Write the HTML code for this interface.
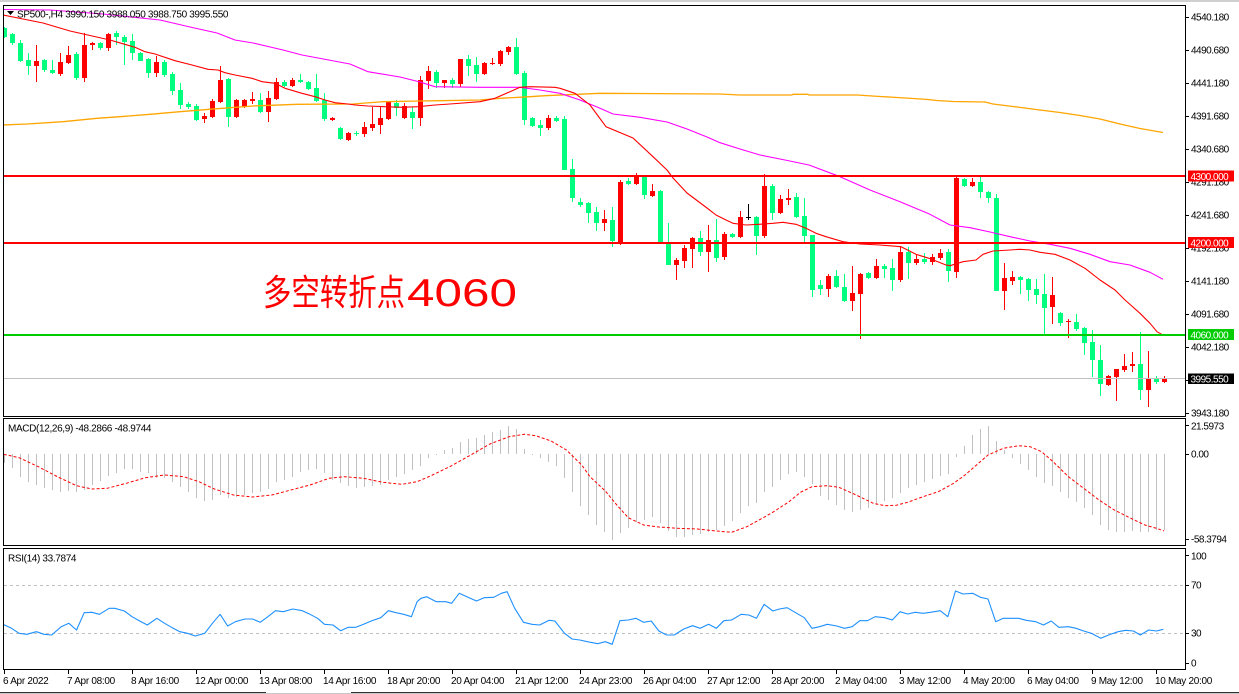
<!DOCTYPE html>
<html><head><meta charset="utf-8"><style>
html,body{margin:0;padding:0;background:#fff;}
svg{display:block;}
text{font-family:"Liberation Sans",Arial,sans-serif;font-size:10px;fill:#000;}
.ax text{letter-spacing:-0.5px;}
.xl text{letter-spacing:-0.3px;}
.wt text{fill:#fff;letter-spacing:-0.5px;}
</style></head><body>
<svg width="1239" height="694" viewBox="0 0 1239 694" xmlns="http://www.w3.org/2000/svg">
<defs>
<clipPath id="cm"><rect x="4" y="6" width="1181" height="410"/></clipPath>
<clipPath id="cd"><rect x="4" y="419" width="1181" height="126"/></clipPath>
<clipPath id="cr"><rect x="4" y="549" width="1181" height="120"/></clipPath>
</defs>
<rect width="1239" height="694" fill="#fff"/>
<rect x="0" y="0" width="1239" height="2" fill="#d0d0d0"/>

<!-- ========== MAIN PANEL ========== -->
<g clip-path="url(#cm)" shape-rendering="crispEdges">
<path stroke="#00ff7f" stroke-width="1" fill="none" d="M4.5 27V38M12.5 33V45M20.5 40V62M28.5 53V75M44.5 59V72M52.5 60V74M76.5 52V80M100.5 42V50M116.5 31V45M124.5 35V65M132.5 34V60M140.5 52V61M148.5 58V78M164.5 60V77M172.5 72V95M180.5 83V109M188.5 102V109M196.5 104V121M228.5 78V127M260.5 93V113M284.5 80V87M300.5 74V83M308.5 81V90M316.5 74V102M324.5 93V121M340.5 127V140M356.5 131V136M396.5 100V116M412.5 107V129M436.5 70V88M452.5 78V88M468.5 55V76M476.5 57V82M516.5 38V75M524.5 71V125M532.5 117V127M540.5 120V136M556.5 116V122M564.5 116V170M572.5 159V202M580.5 198V207M588.5 202V223M596.5 207V231M612.5 207V247M628.5 178V185M644.5 177V199M660.5 190V242M668.5 223V265M700.5 231V256M716.5 219V262M732.5 233V238M756.5 216V255M772.5 184V220M796.5 193V218M804.5 198V242M812.5 235V297M820.5 280V295M836.5 270V288M844.5 274V302M868.5 272V279M884.5 264V278M892.5 259V291M908.5 247V279M924.5 253V264M948.5 249V282M964.5 178V187M980.5 177V198M988.5 191V203M996.5 194V291M1020.5 276V294M1028.5 278V301M1036.5 279V304M1044.5 274V335M1060.5 312V326M1076.5 314V331M1084.5 327V355M1092.5 330V377M1100.5 345V396M1140.5 332V400M1156.5 376V384"/>
<path fill="#00ff7f" d="M2 28h5V37h-5zM10 34h5V43h-5zM18 43h5V61h-5zM26 60h5V66h-5zM42 60h5V70h-5zM50 70h5V73h-5zM74 54h5V78h-5zM98 43h5V48h-5zM114 33h5V37h-5zM122 37h5V42h-5zM130 41h5V53h-5zM138 53h5V61h-5zM146 59h5V73h-5zM162 62h5V75h-5zM170 74h5V91h-5zM178 90h5V105h-5zM186 104h5V107h-5zM194 106h5V120h-5zM226 79h5V117h-5zM258 100h5V112h-5zM282 82h5V86h-5zM298 80h5V82h-5zM306 82h5V89h-5zM314 88h5V101h-5zM322 100h5V119h-5zM338 128h5V139h-5zM354 133h5V134h-5zM394 103h5V108h-5zM410 112h5V118h-5zM434 72h5V83h-5zM450 80h5V84h-5zM466 59h5V66h-5zM474 65h5V74h-5zM514 47h5V74h-5zM522 73h5V120h-5zM530 118h5V126h-5zM538 125h5V128h-5zM554 118h5V121h-5zM562 119h5V170h-5zM570 169h5V198h-5zM578 202h5V205h-5zM586 203h5V213h-5zM594 212h5V223h-5zM610 220h5V241h-5zM626 181h5V184h-5zM642 177h5V195h-5zM658 191h5V242h-5zM666 243h5V265h-5zM698 238h5V252h-5zM714 240h5V258h-5zM730 234h5V237h-5zM754 217h5V236h-5zM770 186h5V213h-5zM794 197h5V217h-5zM802 216h5V236h-5zM810 235h5V290h-5zM818 285h5V289h-5zM834 276h5V287h-5zM842 287h5V301h-5zM866 273h5V278h-5zM882 266h5V269h-5zM890 268h5V280h-5zM906 252h5V263h-5zM922 259h5V262h-5zM946 252h5V271h-5zM962 179h5V186h-5zM978 182h5V192h-5zM986 192h5V198h-5zM994 198h5V291h-5zM1018 277h5V280h-5zM1026 279h5V290h-5zM1034 289h5V295h-5zM1042 294h5V308h-5zM1058 313h5V323h-5zM1074 322h5V329h-5zM1082 328h5V343h-5zM1090 342h5V360h-5zM1098 360h5V384h-5zM1138 364h5V390h-5zM1154 378h5V382h-5z"/>
<path stroke="#ff0000" stroke-width="1" fill="none" d="M36.5 45V82M60.5 53V76M68.5 46V64M84.5 33V82M92.5 42V50M108.5 33V51M156.5 56V77M204.5 113V123M212.5 99V118M220.5 66V103M236.5 99V118M244.5 99V108M252.5 92V104M268.5 91V122M276.5 78V100M292.5 78V87M332.5 117V121M348.5 132V141M364.5 122V137M372.5 107V131M380.5 107V134M388.5 101V120M404.5 103V119M420.5 76V126M428.5 66V89M444.5 80V88M460.5 59V87M484.5 62V75M492.5 58V65M500.5 50V66M508.5 46V55M548.5 115V130M604.5 210V231M620.5 180V245M636.5 173V185M652.5 184V197M676.5 258V280M684.5 245V268M692.5 237V268M708.5 225V272M724.5 232V260M740.5 211V238M764.5 174V238M780.5 195V214M788.5 189V205M828.5 274V297M852.5 266V311M860.5 273V339M876.5 259V279M900.5 246V282M916.5 254V265M932.5 254V265M940.5 249V260M956.5 177V278M972.5 178V187M1004.5 263V310M1012.5 271V285M1052.5 277V324M1068.5 319V338M1108.5 375V386M1116.5 369V401M1124.5 354V372M1132.5 352V372M1148.5 351V407M1164.5 376V383"/>
<path fill="#ff0000" d="M34 61h5V66h-5zM58 62h5V74h-5zM66 55h5V63h-5zM82 45h5V78h-5zM90 43h5V45h-5zM106 34h5V48h-5zM154 62h5V73h-5zM202 116h5V119h-5zM210 101h5V117h-5zM218 80h5V102h-5zM234 100h5V117h-5zM242 100h5V107h-5zM250 99h5V101h-5zM266 98h5V112h-5zM274 82h5V99h-5zM290 80h5V86h-5zM330 118h5V120h-5zM346 133h5V140h-5zM362 127h5V134h-5zM370 124h5V128h-5zM378 118h5V125h-5zM386 102h5V119h-5zM402 106h5V118h-5zM418 80h5V118h-5zM426 71h5V81h-5zM442 80h5V83h-5zM458 59h5V84h-5zM482 63h5V74h-5zM490 63h5V64h-5zM498 51h5V64h-5zM506 47h5V52h-5zM546 118h5V128h-5zM602 219h5V223h-5zM618 182h5V242h-5zM634 177h5V184h-5zM650 191h5V196h-5zM674 260h5V265h-5zM682 248h5V261h-5zM690 238h5V249h-5zM706 240h5V252h-5zM722 234h5V257h-5zM738 217h5V237h-5zM762 186h5V236h-5zM778 199h5V213h-5zM786 198h5V200h-5zM826 276h5V289h-5zM850 293h5V301h-5zM858 274h5V294h-5zM874 266h5V278h-5zM898 252h5V280h-5zM914 259h5V263h-5zM930 257h5V262h-5zM938 253h5V258h-5zM954 178h5V272h-5zM970 182h5V186h-5zM1002 278h5V291h-5zM1010 277h5V281h-5zM1050 295h5V307h-5zM1066 321h5V322h-5zM1106 376h5V385h-5zM1114 369h5V377h-5zM1122 366h5V370h-5zM1130 364h5V366h-5zM1146 378h5V390h-5zM1162 378h5V382h-5z"/>
<path stroke="#000" stroke-width="1" fill="none" d="M748.5 204V220"/>
<rect x="746" y="217" width="5" height="1" fill="#000"/>
</g>

<g clip-path="url(#cm)" fill="none" stroke-linejoin="round">
<polyline stroke="#ffa500" stroke-width="1.3" points="3,125 27,124 63,121.7 97,118.3 120,116.7 150,114.3 180,111.7 217,108.7 253,106 297,104.3 353,104 383,101.7 420,101 440,100.7 480,100 500,98.3 530,96.7 545,95.7 600,93.3 720,94 740,95 792,95 793,94.3 808,94.3 809,95 857,95 880,96.5 897,97.5 913,98.5 928,99.5 937,100.5 953,101.5 985,102 993,104 1017,107 1040,110 1060,112.5 1080,115.5 1100,119 1120,124 1140,128.5 1163,132.5"/>
<polyline stroke="#ff00ff" stroke-width="1.1" points="3,9.5 50,10 103,14 160,20 190,27 217,33 235,40 253,43 283,50 302,55 350,64 368,71.7 400,77 420,82 435,86.7 480,87.3 520,87.3 540,90 560,93.3 580,100 600,108.3 613,114 640,117.3 667,122 687,129 707,137 720,142.7 740,149 760,155 785,160 809,165 840,176.7 870,190 900,201.7 930,214.3 950,225 970,227.7 990,232 1010,236.7 1030,241 1050,244.3 1070,248.3 1090,254.3 1110,261.7 1130,265 1150,272.3 1163,279.3"/>
<polyline stroke="#ff0000" stroke-width="1.1" points="3,15 43,23 70,31 110,40 135,47.3 145,51.7 155,54 175,60.7 192,65 208,69.3 218,70 225,72.7 235,75 252,78.3 262,81.7 275,83.3 285,88.3 302,93.3 315,96.7 325,100 335,102.7 348,104 355,105 368,106 385,106.7 402,107.3 418,106.7 435,105 450,104 480,101.7 495,98.3 510,91.7 520,87.3 530,86.7 555,87.3 560,88.3 575,93.3 590,105 606,126.7 633,138 653,156.7 667,170 673,178 687,193 707,208 716,215 726,220 733,223.3 746,225 759,224.3 773,223.3 783,222.3 796,224.3 806,228.3 816,233.3 826,236.7 843,241.7 860,244 880,245 901,246.7 916,254.3 929,258.3 946,265 950,265.7 963,261.7 976,260 983,254.3 993,251 1010,250 1020,249.3 1030,250 1040,252.3 1055,254.3 1070,260 1085,268.3 1100,280 1115,290 1125,300 1140,313.3 1150,323.3 1157,331.7 1164,335.7"/>
</g>

<g shape-rendering="crispEdges">
<rect x="4" y="175" width="1182" height="2" fill="#ff0000"/>
<rect x="4" y="242" width="1182" height="2" fill="#ff0000"/>
<rect x="4" y="334" width="1182" height="2" fill="#00cc00"/>
<rect x="4" y="378" width="1182" height="1" fill="#c0c0c0"/>
</g>

<text x="263" y="305" textLength="142" lengthAdjust="spacingAndGlyphs" style="font-family:'Liberation Sans','Noto Sans CJK SC',sans-serif;font-size:36px;fill:#ff0000;">多空转折点</text>
<text x="407" y="306" textLength="110" lengthAdjust="spacingAndGlyphs" style="font-family:'Liberation Sans',sans-serif;font-size:39px;fill:#ff0000;">4060</text>

<polygon points="7,11 14,11 10.5,15" fill="#000"/>
<text x="17" y="17.5" style="letter-spacing:-0.35px">SP500-,H4  3990.150 3988.050 3988.750 3995.550</text>

<!-- ========== MACD PANEL ========== -->
<g clip-path="url(#cd)">
<path shape-rendering="crispEdges" stroke="#c0c0c0" stroke-width="1" fill="none" d="M4.5 454V463M12.5 454V468M20.5 454V477M28.5 454V482M36.5 454V485M44.5 454V488M52.5 454V490M60.5 454V492M68.5 454V491M76.5 454V492M84.5 454V490M92.5 454V485M100.5 454V481M108.5 454V476M116.5 454V473M124.5 454V469M132.5 454V469M140.5 454V472M148.5 454V473M156.5 454V478M164.5 454V478M172.5 454V482M180.5 454V487M188.5 454V492M196.5 454V498M204.5 454V501M212.5 454V500M220.5 454V495M228.5 454V498M236.5 454V497M244.5 454V495M252.5 454V493M260.5 454V492M268.5 454V489M276.5 454V482M284.5 454V480M292.5 454V477M300.5 454V472M308.5 454V470M316.5 454V469M324.5 454V473M332.5 454V480M340.5 454V483M348.5 454V486M356.5 454V488M364.5 454V487M372.5 454V486M380.5 454V485M388.5 454V480M396.5 454V477M404.5 454V474M412.5 454V470M420.5 454V466M428.5 454V458M436.5 454V455M444.5 454V450M452.5 454V448M460.5 454V442M468.5 454V439M476.5 454V438M484.5 454V435M492.5 454V432M500.5 454V430M508.5 454V426M516.5 454V429M524.5 454V449M532.5 454V455M540.5 454V458M548.5 454V462M556.5 454V466M564.5 454V478M572.5 454V492M580.5 454V506M588.5 454V515M596.5 454V525M604.5 454V532M612.5 454V540M620.5 454V533M628.5 454V528M636.5 454V522M644.5 454V520M652.5 454V517M660.5 454V523M668.5 454V531M676.5 454V537M684.5 454V537M692.5 454V535M700.5 454V534M708.5 454V532M716.5 454V530M724.5 454V526M732.5 454V521M740.5 454V513M748.5 454V506M756.5 454V503M764.5 454V492M772.5 454V487M780.5 454V480M788.5 454V474M796.5 454V472M804.5 454V477M812.5 454V484M820.5 454V496M828.5 454V500M836.5 454V505M844.5 454V510M852.5 454V512M860.5 454V510M868.5 454V508M876.5 454V505M884.5 454V501M892.5 454V498M900.5 454V493M908.5 454V488M916.5 454V485M924.5 454V482M932.5 454V479M940.5 454V476M948.5 454V474M956.5 454V457M964.5 454V446M972.5 454V435M980.5 454V429M988.5 454V426M996.5 454V441M1004.5 454V450M1012.5 454V458M1020.5 454V464M1028.5 454V470M1036.5 454V477M1044.5 454V483M1052.5 454V486M1060.5 454V492M1068.5 454V498M1076.5 454V502M1084.5 454V508M1092.5 454V515M1100.5 454V525M1108.5 454V530M1116.5 454V532M1124.5 454V532M1132.5 454V531M1140.5 454V532M1148.5 454V532M1156.5 454V530M1164.5 454V530"/>
<polyline fill="none" stroke="#ff0000" stroke-width="1" stroke-dasharray="3 2" points="3.8,454.3 19.1,457.7 38.3,466.7 57.4,476.7 76.5,485.7 91.8,489 107.2,488.3 126.3,483.3 145.4,477.7 164.6,475 183.7,476.7 199,481.7 214.3,489 233.4,495 252.6,497 271.7,495 290.9,490 310,485 329.1,478.3 344.4,476.7 363.6,478.3 382.7,482.3 401.8,484.3 417.1,481.7 432.5,475 451.6,465.7 470.7,455 489.9,444 509,436.7 524.3,434.3 535.8,435.7 551.1,441 566.4,450 581.7,465 590,476.7 605.3,491 616.8,505 628.3,517.7 643.6,525 658.9,527 678,528.3 697.2,529 716.3,531 731.6,532.3 746.9,526.7 762.2,518.3 773.7,511.7 789,501.7 800.5,492.3 812,486.7 827.3,485.7 838.8,487.3 850.2,492.3 861.7,497.7 873.2,503.3 884.7,505.7 896.2,505.3 907.6,502.3 923,496.7 938.3,491.7 953.6,483.3 965,475 976.5,465 988,455 1003.3,448.3 1018.6,445.7 1030.1,446.7 1041.6,451.7 1053.1,461.7 1068.4,476.7 1083.7,488.3 1099,500 1114.3,510 1129.6,517.7 1144.9,525 1156.4,528.3 1164,531"/>
</g>
<text x="8" y="431.3" style="letter-spacing:-0.35px">MACD(12,26,9) -48.2866 -48.9744</text>

<!-- ========== RSI PANEL ========== -->
<g clip-path="url(#cr)">
<line x1="4" y1="585.5" x2="1185" y2="585.5" stroke="#c0c0c0" stroke-width="1" stroke-dasharray="3 3"/>
<line x1="4" y1="633.5" x2="1185" y2="633.5" stroke="#c0c0c0" stroke-width="1" stroke-dasharray="3 3"/>
<polyline fill="none" stroke="#1e90ff" stroke-width="1.1" stroke-linejoin="round" points="3.1,624.3 11.5,628.3 19.1,633.3 26.8,634.3 36.4,631.7 44,634.3 51.7,635 61.2,626.7 68.9,623.3 76.5,630 84.2,612.7 91.8,612.3 99.5,614.3 109.1,608.3 114.8,608.3 124.4,611 132,616.7 139.7,621 147.3,625 156.9,618.3 164.6,623.3 172.2,627.7 179.9,631.7 187.5,633.3 195.2,636 204.7,633.3 212.4,623.3 220.1,614.3 227.7,626 235.4,621.7 244.9,619 252.6,619 260.2,622.3 267.9,616.7 275.5,610.7 283.2,611.7 292.8,609 302.3,610.7 310,614.3 317.6,618.3 324.5,624.3 333,625 340.6,630.7 348.3,627.3 355.9,627.3 363.6,624.3 371.2,621 380.8,617.7 388.4,610.7 396.1,612.7 403.7,614.3 411.4,616.7 417.1,601.7 421,598.3 426.7,596.7 436.3,601.7 445.8,601.7 451.6,603.3 459.2,593.3 466.9,596.7 476.5,601 484.1,597.7 493.7,597.3 501.3,593.3 507.1,591.7 514.7,608.3 523.5,622.3 532,624.3 539.6,625 549.2,620.3 554.9,621 564.5,633.3 572.1,639 579.8,640 587.4,641.7 597.7,643.7 605.3,641.7 612.2,644.3 619.9,620.7 628.3,620 635.9,618.3 643.6,622.3 651.2,621 658.9,631 666.5,635 674.2,635 683.8,629 692.6,625.7 700.2,628.3 708.6,624.3 716.3,628.3 723.9,620.7 731.6,620 741.2,614.3 748.8,615 756.5,618.3 764.1,604.3 772.9,611 779.4,609 787.1,607.7 796.7,613.3 804.3,617.7 812,628.3 819.6,626.7 827.3,624.3 836.8,626 844.5,628.3 852.2,626.7 859.8,620.7 867.5,620.7 875.1,616.7 884.7,617.7 892.3,620 900,611.7 907.6,614 915.3,612.3 923,613.3 930.6,612.3 940.2,610.7 947.8,616.7 955.5,591 963.1,594 972.7,593.3 980.4,597.3 988,599 995.7,621.7 1003.3,618.3 1011,618.3 1018.6,618.3 1026.3,620.3 1035.8,621.7 1043.5,625 1051.2,621 1058.8,627.3 1068.4,626.7 1076,628.3 1083.7,631 1091.3,633.3 1100.9,638.3 1108.6,635 1118.1,631.7 1125.8,630.3 1133.4,631 1140.3,635 1148.7,630 1156.4,631 1163.3,629.3"/>
</g>
<text x="8" y="561.3" style="letter-spacing:-0.35px">RSI(14) 33.7874</text>

<!-- ========== FRAMES ========== -->
<g fill="none" stroke="#000" stroke-width="1" shape-rendering="crispEdges">
<rect x="3.5" y="5.5" width="1182" height="411"/>
<rect x="3.5" y="418.5" width="1182" height="127"/>
<rect x="3.5" y="548.5" width="1182" height="121"/>
<path d="M1186 17.5h3M1186 50.5h3M1186 83.5h3M1186 116.5h3M1186 149.5h3M1186 182.5h3M1186 215.5h3M1186 248.5h3M1186 281.5h3M1186 314.5h3M1186 347.5h3M1186 380.5h3M1186 413.5h3M1186 425.5h3M1186 454.5h3M1186 539.5h3M1186 555.5h3M1186 585.5h3M1186 633.5h3M1186 663.5h3"/>
<path d="M4.5 670v4M68.5 670v4M132.5 670v4M196.5 670v4M260.5 670v4M324.5 670v4M388.5 670v4M452.5 670v4M516.5 670v4M580.5 670v4M644.5 670v4M708.5 670v4M772.5 670v4M836.5 670v4M900.5 670v4M964.5 670v4M1028.5 670v4M1092.5 670v4M1156.5 670v4"/>
</g>

<g class="ax">
<text x="1191" y="20.6">4540.180</text>
<text x="1191" y="53.6">4490.680</text>
<text x="1191" y="86.6">4441.180</text>
<text x="1191" y="119.6">4391.680</text>
<text x="1191" y="152.6">4340.680</text>
<text x="1191" y="185.6">4291.180</text>
<text x="1191" y="218.6">4241.680</text>
<text x="1191" y="251.6">4192.180</text>
<text x="1191" y="284.6">4141.180</text>
<text x="1191" y="317.6">4091.680</text>
<text x="1191" y="350.6">4042.180</text>
<text x="1191" y="416.6">3943.180</text>
<text x="1191" y="429.3">21.5973</text>
<text x="1191" y="457.6">0.00</text>
<text x="1191" y="542.6">-58.3794</text>
<text x="1191" y="559.3">100</text>
<text x="1191" y="588.6">70</text>
<text x="1191" y="636.6">30</text>
<text x="1191" y="666.6">0</text>
</g>
<g shape-rendering="crispEdges">
<rect x="1188" y="170.5" width="46" height="11" fill="#ff0000"/>
<rect x="1188" y="237" width="46" height="11" fill="#ff0000"/>
<rect x="1188" y="329" width="46" height="11" fill="#00cc00"/>
<rect x="1188" y="373.5" width="46" height="10.5" fill="#000"/>
</g>
<g class="wt">
<text x="1190.5" y="179.8">4300.000</text>
<text x="1190.5" y="246.3">4200.000</text>
<text x="1190.5" y="338.3">4060.000</text>
<text x="1190.5" y="382.6">3995.550</text>
</g>

<g class="xl">
<text x="3" y="684">6 Apr 2022</text>
<text x="67" y="684">7 Apr 08:00</text>
<text x="131" y="684">8 Apr 16:00</text>
<text x="195" y="684">12 Apr 00:00</text>
<text x="259" y="684">13 Apr 08:00</text>
<text x="323" y="684">14 Apr 16:00</text>
<text x="387" y="684">18 Apr 20:00</text>
<text x="451" y="684">20 Apr 04:00</text>
<text x="515" y="684">21 Apr 12:00</text>
<text x="579" y="684">24 Apr 23:00</text>
<text x="643" y="684">26 Apr 04:00</text>
<text x="707" y="684">27 Apr 12:00</text>
<text x="771" y="684">28 Apr 20:00</text>
<text x="835" y="684">2 May 04:00</text>
<text x="899" y="684">3 May 12:00</text>
<text x="963" y="684">4 May 20:00</text>
<text x="1027" y="684">6 May 04:00</text>
<text x="1091" y="684">9 May 12:00</text>
<text x="1155" y="684">10 May 20:00</text>
</g>

<rect x="0" y="692" width="266" height="1" fill="#303030"/>
<rect x="351" y="692" width="888" height="1" fill="#303030"/>
<rect x="0" y="693" width="1239" height="1" fill="#c8c8c8"/>
</svg>
</body></html>
